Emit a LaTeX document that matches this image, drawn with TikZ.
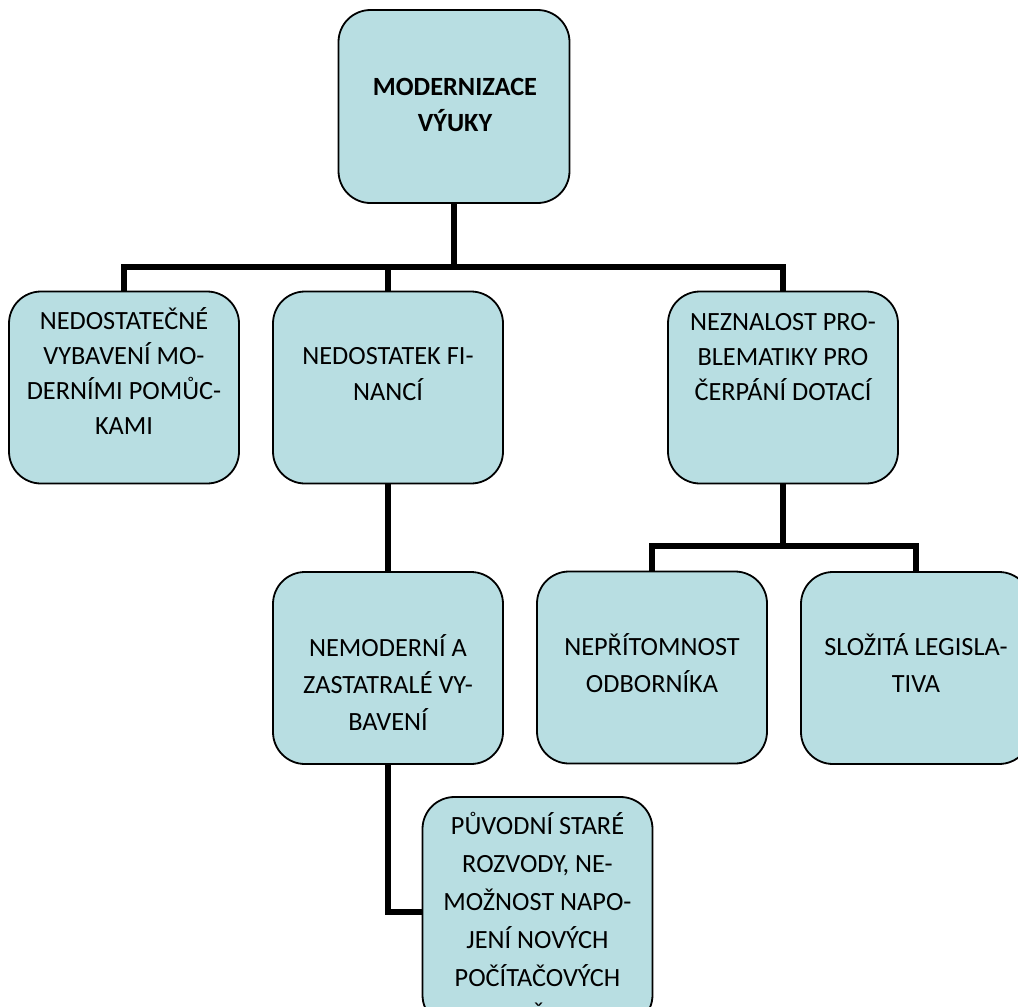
\documentclass[tikz,border=0pt]{standalone}
\usepackage{fontspec}
\setmainfont{Carlito}
\definecolor{boxfill}{RGB}{184,222,226}
\begin{document}
\begin{tikzpicture}[x=1pt,y=-1pt,
  box/.style={draw=black, line width=1.8pt, fill=boxfill, rounded corners=32pt,
    minimum width=230pt, minimum height=192pt, inner sep=0pt},
  txt/.style={align=center, inner sep=0pt, font=\fontsize{26.3}{36}\selectfont},
  conn/.style={line width=6pt, line join=miter}]
\useasboundingbox (0,0) rectangle (1018,1007);
\clip (0,0) rectangle (1018,1007);
% boxes
\node[box, minimum width=231pt, minimum height=193pt] (root) at (454,106.5) {};
\node[box] (b1) at (124,387.5) {};
\node[box] (b2) at (388,387.5) {};
\node[box] (b4) at (783,387.5) {};
\node[box] (b5) at (388,668) {};
\node[box] (b6) at (652,667.5) {};
\node[box] (b7) at (916,668) {};
\node[box, minimum height=230pt] (b8) at (537.5,912) {};
% connectors
\coordinate (bus) at (454,267);
\coordinate (bus2) at (783,546);
\draw[conn] (root.south) -- (root.south |- bus);
\draw[conn] (b1.north) -- (b1.north |- bus) -- (b4.north |- bus) -- (b4.north);
\draw[conn] (b2.north) -- (b2.north |- bus);
\draw[conn] (b2.south) -- (b5.north);
\draw[conn] (b4.south) -- (b4.south |- bus2);
\draw[conn] (b6.north) -- (b6.north |- bus2) -- (b7.north |- bus2) -- (b7.north);
\draw[conn] (b5.south) |- (b8.west);
% texts
\node[txt, font=\bfseries\fontsize{26.3}{36}\selectfont] (roott) at (455,106) {\strut MODERNIZACE\\ VÝUKY\strut};
\node[txt, font=\fontsize{26.3}{35}\selectfont] (b1t) at (124,375) {\strut NEDOSTATEČNÉ\\ VYBAVENÍ MO-\\ DERNÍMI POMŮC-\\ KAMI\strut};
\node[txt] (b2t) at (388,375) {\strut NEDOSTATEK FI-\\ NANCÍ\strut};
\node[txt, font=\fontsize{26.3}{35}\selectfont] (b4t) at (783,358) {\strut NEZNALOST PRO-\\ BLEMATIKY PRO\\ ČERPÁNÍ DOTACÍ\strut};
\node[txt, font=\fontsize{26.3}{37}\selectfont] (b5t) at (388,686) {\strut NEMODERNÍ A\\ ZASTATRALÉ VY-\\ BAVENÍ\strut};
\node[txt, font=\fontsize{26.3}{37}\selectfont] (b6t) at (652,667) {\strut NEPŘÍTOMNOST\\ ODBORNÍKA\strut};
\node[txt, font=\fontsize{26.3}{37}\selectfont] (b7t) at (916,667) {\strut SLOŽITÁ LEGISLA-\\ TIVA\strut};
\node[txt, font=\fontsize{26.3}{38}\selectfont] (b8t) at (537.5,922) {\strut PŮVODNÍ STARÉ\\ ROZVODY, NE-\\ MOŽNOST NAPO-\\ JENÍ NOVÝCH\\ POČÍTAČOVÝCH\\ Č\strut};
\end{tikzpicture}
\end{document}
